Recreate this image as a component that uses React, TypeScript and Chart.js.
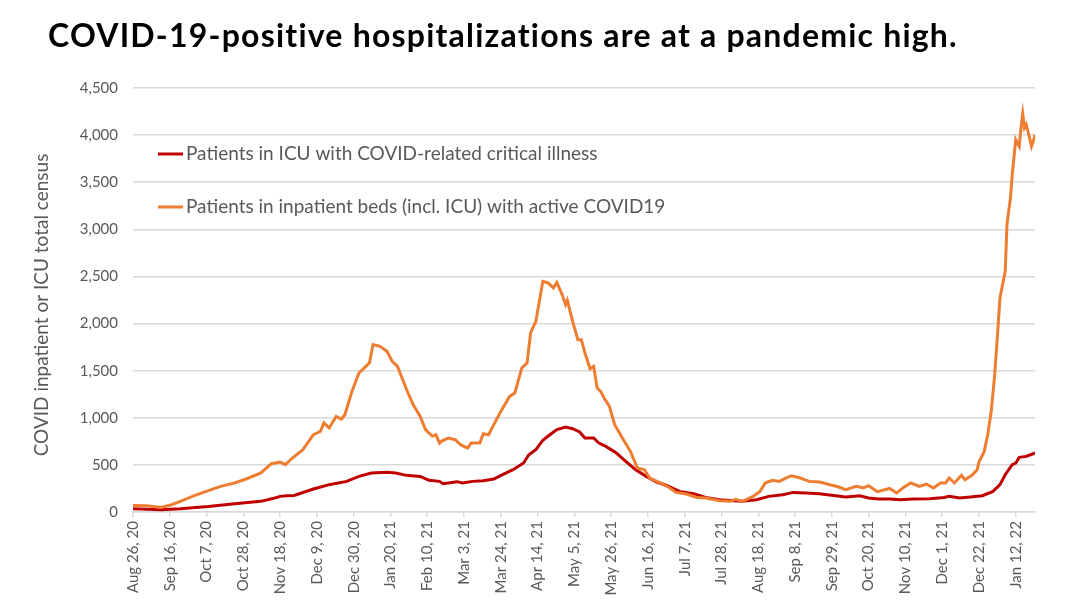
import React, { useEffect, useRef } from "react";
import Chart from "chart.js/auto";

const titleText = "COVID-19-positive hospitalizations are at a pandemic high.";
const yAxisTitle = "COVID inpatient or ICU total census";
const icuLabel = "Patients in ICU with COVID-related critical illness";
const inpatientLabel = "Patients in inpatient beds (incl. ICU) with active COVID19";

// x ticks: day offsets from Aug 26, 2020
const tickDays = [0, 21, 42, 63, 84, 105, 126, 147, 168, 189, 210, 231, 252, 273, 294, 315, 336, 357, 378, 399, 420, 441, 462, 483, 504];
const tickLabels = [
  "Aug 26, 20", "Sep 16, 20", "Oct 7, 20", "Oct 28, 20", "Nov 18, 20", "Dec 9, 20", "Dec 30, 20",
  "Jan 20, 21", "Feb 10, 21", "Mar 3, 21", "Mar 24, 21", "Apr 14, 21", "May 5, 21", "May 26, 21",
  "Jun 16, 21", "Jul 7, 21", "Jul 28, 21", "Aug 18, 21", "Sep 8, 21", "Sep 29, 21", "Oct 20, 21",
  "Nov 10, 21", "Dec 1, 21", "Dec 22, 21", "Jan 12, 22",
];
const yTicks = [0, 500, 1000, 1500, 2000, 2500, 3000, 3500, 4000, 4500];

// [day offset, patients]
const inpatientSeries: [number, number][] = [
  [0, 70], [8, 67], [16, 49], [22, 77], [27, 113], [35, 173], [43, 226], [50, 272], [58, 308], [65, 353],
  [73, 414], [79, 513], [84, 530], [87, 502], [91, 573], [97, 661], [103, 820], [107, 856], [109, 945], [112, 892],
  [116, 1015], [119, 987], [121, 1033], [125, 1280], [129, 1475], [135, 1582], [137, 1776], [141, 1758], [145, 1705], [148, 1599],
  [151, 1546], [154, 1404], [157, 1263], [160, 1139], [164, 1015], [167, 874], [169, 838], [171, 803], [173, 820], [175, 732],
  [176, 750], [180, 785], [184, 767], [187, 714], [191, 679], [193, 732], [198, 732], [200, 831], [203, 820], [206, 927],
  [210, 1068], [215, 1227], [218, 1263], [222, 1529], [225, 1582], [227, 1900], [230, 2023], [234, 2448], [237, 2431], [240, 2378],
  [242, 2437], [245, 2307], [247, 2200], [248, 2246], [251, 2023], [254, 1829], [256, 1829], [258, 1690], [261, 1520], [263, 1546],
  [265, 1316], [267, 1280], [269, 1210], [272, 1121], [275, 927], [280, 767], [284, 643], [288, 467], [292, 449], [295, 361],
  [301, 308], [305, 272], [310, 208], [316, 191], [322, 155], [327, 149], [335, 120], [341, 113], [344, 135], [346, 123],
  [348, 113], [354, 166], [358, 219], [361, 308], [365, 336], [369, 325], [373, 361], [376, 385], [381, 361], [386, 325],
  [392, 318], [398, 290], [403, 265], [407, 237], [413, 272], [417, 255], [420, 279], [425, 215], [432, 250], [436, 202],
  [440, 261], [444, 308], [449, 272], [453, 297], [457, 255], [461, 308], [464, 308], [466, 361], [469, 308], [473, 389],
  [475, 343], [479, 389], [482, 449], [483, 531], [486, 643], [488, 820], [490, 1068], [492, 1457], [494, 1988], [495, 2272],
  [498, 2554], [499, 3050], [501, 3333], [502, 3580], [504, 3952], [506, 3881], [507, 4076], [508, 4225], [509, 4076], [510, 4111],
  [511, 4040], [513, 3881], [514, 3934], [515, 4005],
];

const icuSeries: [number, number][] = [
  [0, 35], [16, 24], [27, 35], [43, 59], [58, 88], [73, 113], [81, 149], [84, 166], [88, 173], [92, 176],
  [103, 244], [112, 290], [122, 325], [129, 378], [136, 414], [145, 421], [150, 414], [156, 389], [164, 378], [169, 336],
  [175, 325], [177, 300], [185, 322], [188, 308], [194, 325], [200, 332], [206, 350], [211, 396], [217, 449], [223, 520],
  [226, 608], [230, 661], [234, 760], [238, 820], [242, 874], [247, 902], [251, 884], [255, 849], [258, 785], [263, 785],
  [266, 732], [270, 696], [276, 626], [282, 527], [287, 449], [293, 378], [299, 318], [305, 279], [312, 219], [320, 194],
  [327, 155], [335, 131], [343, 120], [348, 113], [356, 131], [363, 166], [371, 184], [377, 208], [384, 202], [392, 194],
  [400, 176], [407, 159], [415, 173], [420, 149], [426, 138], [432, 138], [438, 131], [445, 138], [455, 141], [463, 155],
  [466, 166], [472, 149], [478, 159], [485, 173], [491, 219], [495, 290], [498, 396], [502, 502], [504, 520], [506, 580],
  [510, 590], [515, 626],
];

const GREY = "#595959";
const FONT = "Lato, 'Open Sans', sans-serif";

const decorPlugin = {
  id: "decor",
  afterDraw(chart: any) {
    const ctx = chart.ctx as CanvasRenderingContext2D;
    ctx.save();
    // Title (stretched with letter spacing to the reference width)
    ctx.fillStyle = "#000";
    ctx.font = `bold 32px ${FONT}`;
    ctx.textAlign = "left";
    ctx.textBaseline = "alphabetic";
    const w = ctx.measureText(titleText).width;
    const targetW = 910;
    const ls = Math.max(0, (targetW - w) / (titleText.length - 1));
    (ctx as any).letterSpacing = `${ls.toFixed(2)}px`;
    ctx.fillText(titleText, 48, 47);
    (ctx as any).letterSpacing = "0px";
    // Y axis title
    ctx.save();
    ctx.translate(42, 305);
    ctx.rotate(-Math.PI / 2);
    ctx.font = `19px ${FONT}`;
    ctx.fillStyle = GREY;
    ctx.textAlign = "center";
    ctx.textBaseline = "middle";
    ctx.fillText(yAxisTitle, 0, 0);
    ctx.restore();
    // Legend
    const items = [
      { label: icuLabel, color: "#C00000", y: 154 },
      { label: inpatientLabel, color: "#ED7D31", y: 207 },
    ];
    ctx.font = `19px ${FONT}`;
    ctx.textAlign = "left";
    ctx.textBaseline = "middle";
    for (const it of items) {
      ctx.strokeStyle = it.color;
      ctx.lineWidth = 3;
      ctx.beginPath();
      ctx.moveTo(158, it.y);
      ctx.lineTo(183, it.y);
      ctx.stroke();
      ctx.fillStyle = GREY;
      ctx.fillText(it.label, 186, it.y);
    }
    ctx.restore();
  },
};

export default function App() {
  const canvasRef = useRef<HTMLCanvasElement | null>(null);

  useEffect(() => {
    if (!canvasRef.current) return;
    const chart = new Chart(canvasRef.current, {
      type: "line",
      data: {
        datasets: [
          {
            label: inpatientLabel,
            data: inpatientSeries.map(([x, y]) => ({ x, y })),
            borderColor: "#ED7D31",
            backgroundColor: "#ED7D31",
            borderWidth: 3,
            pointRadius: 0,
            tension: 0,
          },
          {
            label: icuLabel,
            data: icuSeries.map(([x, y]) => ({ x, y })),
            borderColor: "#C00000",
            backgroundColor: "#C00000",
            borderWidth: 3,
            pointRadius: 0,
            tension: 0,
          },
        ],
      },
      options: {
        responsive: false,
        animation: false,
        layout: { padding: { top: 88, right: 45, left: 0, bottom: 0 } },
        plugins: {
          legend: { display: false },
          tooltip: { enabled: false },
          title: { display: false },
        },
        scales: {
          x: {
            type: "linear",
            min: 0,
            max: 515,
            afterBuildTicks: (scale: any) => {
              scale.ticks = tickDays.map((v) => ({ value: v }));
            },
            afterFit: (scale: any) => {
              scale.height = 101;
            },
            ticks: {
              autoSkip: false,
              minRotation: 90,
              maxRotation: 90,
              padding: 4,
              color: GREY,
              font: { family: FONT, size: 15 },
              callback: (v: any) => {
                const i = tickDays.indexOf(Number(v));
                return i >= 0 ? tickLabels[i] : "";
              },
            },
            grid: {
              display: true,
              drawOnChartArea: false,
              drawTicks: true,
              tickLength: 5,
              color: "#d9d9d9",
              lineWidth: 1.5,
            },
            border: { display: true, color: "#d9d9d9", width: 1.5 },
          },
          y: {
            min: 0,
            max: 4500,
            afterBuildTicks: (scale: any) => {
              scale.ticks = yTicks.map((v) => ({ value: v }));
            },
            afterFit: (scale: any) => {
              scale.width = 133;
            },
            ticks: {
              padding: 15,
              color: GREY,
              font: { family: FONT, size: 15 },
              callback: (v: any) => Number(v).toLocaleString("en-US"),
            },
            grid: { color: "#d9d9d9", lineWidth: 1.5, drawTicks: false },
            border: { display: false },
          },
        },
      },
      plugins: [decorPlugin],
    } as any);
    return () => chart.destroy();
  }, []);

  return (
    <div style={{ position: "absolute", left: 0, top: 0, width: 1080, height: 613, background: "#fff" }}>
      <canvas ref={canvasRef} width={1080} height={613} style={{ display: "block" }} />
    </div>
  );
}
